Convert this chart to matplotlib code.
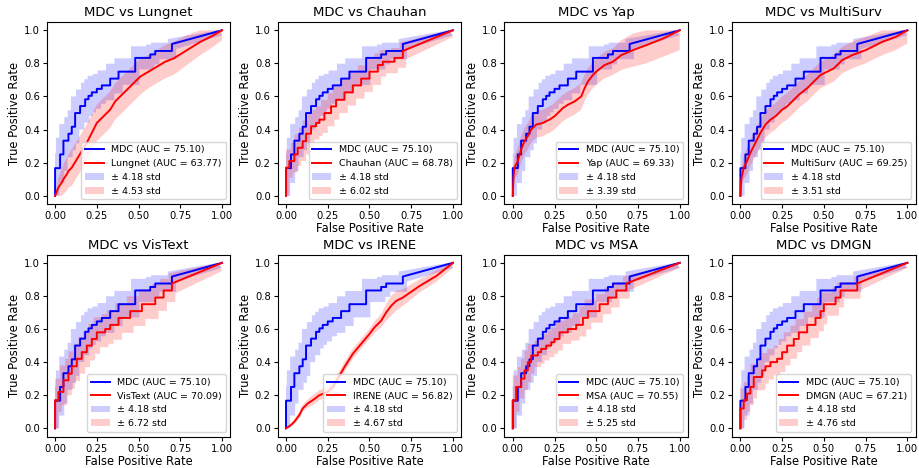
import matplotlib
matplotlib.use("Agg")
import matplotlib.pyplot as plt
import numpy as np

# MDC (shared by every panel): step points, curve ends on a straight line to (1, 1)
mdc_x = [0, 0, 0.03, 0.05, 0.08, 0.10, 0.12, 0.15, 0.18, 0.20, 0.22, 0.25, 0.28, 0.33, 0.38, 0.48, 0.57, 0.60, 0.70, 1.0]
mdc_y = [0, 0.167, 0.25, 0.333, 0.375, 0.417, 0.5, 0.542, 0.583, 0.604, 0.625, 0.646, 0.667, 0.708, 0.75, 0.833, 0.854, 0.875, 0.917, 1.0]
mdc_w = [0, 0.09, 0.10, 0.10, 0.10, 0.10, 0.10, 0.10, 0.10, 0.10, 0.10, 0.09, 0.09, 0.09, 0.08, 0.07, 0.06, 0.05, 0.03, 0.03]

lungnet_x = [0, 0.02, 0.04, 0.05, 0.07, 0.08, 0.10, 0.13, 0.16, 0.19, 0.22, 0.25, 0.29, 0.33, 0.36, 0.39, 0.43, 0.47, 0.51, 0.56, 0.61, 0.66, 0.71, 0.79, 0.87, 0.94, 1.0]
lungnet_y = [0, 0.05, 0.08, 0.10, 0.13, 0.15, 0.17, 0.22, 0.27, 0.32, 0.38, 0.44, 0.48, 0.52, 0.57, 0.60, 0.64, 0.68, 0.72, 0.75, 0.78, 0.81, 0.83, 0.88, 0.93, 0.965, 1.0]
lungnet_w = [0, 0.06, 0.08, 0.09, 0.10, 0.10, 0.11, 0.11, 0.11, 0.11, 0.11, 0.11, 0.11, 0.11, 0.11, 0.11, 0.11, 0.11, 0.11, 0.10, 0.10, 0.10, 0.10, 0.09, 0.08, 0.07, 0.06]

chauhan_x = [0, 0, 0.02, 0.05, 0.07, 0.10, 0.12, 0.15, 0.18, 0.20, 0.23, 0.27, 0.30, 0.35, 0.40, 0.45, 0.50, 0.55, 0.58, 0.65, 0.70, 1.0]
chauhan_y = [0, 0.17, 0.21, 0.25, 0.29, 0.33, 0.375, 0.42, 0.44, 0.46, 0.5, 0.54, 0.58, 0.625, 0.667, 0.708, 0.75, 0.79, 0.81, 0.833, 0.875, 1.0]
chauhan_w = [0, 0.06, 0.07, 0.07, 0.08, 0.08, 0.08, 0.08, 0.08, 0.08, 0.08, 0.08, 0.08, 0.08, 0.08, 0.08, 0.08, 0.07, 0.07, 0.06, 0.05, 0.04]

yap_x = [0, 0.005, 0.01, 0.03, 0.05, 0.07, 0.09, 0.11, 0.14, 0.18, 0.22, 0.25, 0.28, 0.30, 0.33, 0.37, 0.41, 0.43, 0.45, 0.48, 0.50, 0.55, 0.60, 0.65, 0.72, 0.80, 0.90, 1.0]
yap_y = [0, 0.12, 0.17, 0.21, 0.28, 0.33, 0.36, 0.40, 0.43, 0.44, 0.46, 0.48, 0.51, 0.53, 0.55, 0.57, 0.60, 0.65, 0.69, 0.73, 0.75, 0.79, 0.81, 0.85, 0.88, 0.91, 0.95, 1.0]
yap_w = [0, 0.06, 0.07, 0.08, 0.08, 0.08, 0.08, 0.08, 0.08, 0.08, 0.08, 0.08, 0.08, 0.08, 0.08, 0.08, 0.08, 0.08, 0.08, 0.08, 0.08, 0.08, 0.08, 0.09, 0.10, 0.11, 0.11, 0.12]

multisurv_x = [0, 0.005, 0.02, 0.04, 0.06, 0.08, 0.10, 0.12, 0.15, 0.18, 0.21, 0.25, 0.28, 0.31, 0.35, 0.40, 0.44, 0.48, 0.52, 0.56, 0.61, 0.67, 0.75, 0.85, 0.93, 1.0]
multisurv_y = [0, 0.10, 0.17, 0.21, 0.26, 0.30, 0.34, 0.38, 0.43, 0.46, 0.48, 0.52, 0.54, 0.57, 0.61, 0.65, 0.69, 0.73, 0.75, 0.77, 0.82, 0.85, 0.88, 0.93, 0.96, 1.0]
multisurv_w = [0, 0.06, 0.07, 0.08, 0.08, 0.08, 0.08, 0.08, 0.08, 0.08, 0.08, 0.08, 0.08, 0.08, 0.08, 0.08, 0.08, 0.08, 0.08, 0.08, 0.08, 0.08, 0.08, 0.08, 0.08, 0.08]

vistext_x = [0, 0, 0.02, 0.05, 0.08, 0.10, 0.13, 0.16, 0.19, 0.22, 0.25, 0.30, 0.33, 0.38, 0.45, 0.52, 0.60, 0.65, 0.70, 1.0]
vistext_y = [0, 0.17, 0.22, 0.29, 0.33, 0.375, 0.42, 0.46, 0.5, 0.54, 0.58, 0.60, 0.625, 0.667, 0.708, 0.75, 0.79, 0.833, 0.875, 1.0]
vistext_w = [0, 0.07, 0.08, 0.09, 0.09, 0.09, 0.09, 0.09, 0.09, 0.09, 0.09, 0.09, 0.09, 0.09, 0.09, 0.09, 0.08, 0.07, 0.06, 0.05]

irene_x = [0, 0.03, 0.05, 0.08, 0.10, 0.13, 0.16, 0.20, 0.25, 0.28, 0.31, 0.35, 0.40, 0.45, 0.50, 0.53, 0.57, 0.60, 0.63, 0.66, 0.70, 0.80, 0.90, 1.0]
irene_y = [0, 0.02, 0.04, 0.08, 0.12, 0.15, 0.17, 0.20, 0.22, 0.25, 0.30, 0.37, 0.45, 0.51, 0.57, 0.61, 0.65, 0.70, 0.74, 0.77, 0.79, 0.86, 0.92, 1.0]
irene_w = [0, 0.01, 0.015, 0.02, 0.02, 0.025, 0.03, 0.03, 0.03, 0.03, 0.03, 0.03, 0.03, 0.03, 0.03, 0.035, 0.04, 0.05, 0.06, 0.06, 0.05, 0.04, 0.035, 0.03]

msa_x = [0, 0, 0.02, 0.05, 0.07, 0.09, 0.11, 0.15, 0.17, 0.20, 0.23, 0.25, 0.28, 0.33, 0.38, 0.42, 0.45, 0.52, 0.57, 0.62, 0.68, 1.0]
msa_y = [0, 0.17, 0.25, 0.30, 0.35, 0.40, 0.44, 0.46, 0.48, 0.50, 0.52, 0.54, 0.58, 0.60, 0.625, 0.667, 0.708, 0.75, 0.79, 0.833, 0.875, 1.0]
msa_w = [0, 0.07, 0.07, 0.07, 0.07, 0.07, 0.07, 0.07, 0.07, 0.07, 0.07, 0.07, 0.07, 0.07, 0.07, 0.07, 0.07, 0.06, 0.06, 0.05, 0.04, 0.03]

dmgn_x = [0, 0, 0.02, 0.04, 0.06, 0.08, 0.13, 0.15, 0.18, 0.22, 0.25, 0.28, 0.32, 0.35, 0.40, 0.45, 0.48, 0.50, 0.57, 0.60, 0.70, 1.0]
dmgn_y = [0, 0.12, 0.17, 0.21, 0.25, 0.31, 0.35, 0.375, 0.40, 0.42, 0.46, 0.50, 0.54, 0.58, 0.625, 0.667, 0.708, 0.75, 0.79, 0.833, 0.875, 1.0]
dmgn_w = [0, 0.07, 0.07, 0.07, 0.07, 0.08, 0.08, 0.08, 0.08, 0.08, 0.08, 0.08, 0.08, 0.08, 0.08, 0.08, 0.08, 0.07, 0.06, 0.05, 0.04, 0.03]

names = ["Lungnet", "Chauhan", "Yap", "MultiSurv", "VisText", "IRENE", "MSA", "DMGN"]
aucs = ["63.77", "68.78", "69.33", "69.25", "70.09", "56.82", "70.55", "67.21"]
stds = ["4.53", "6.02", "3.39", "3.51", "6.72", "4.67", "5.25", "4.76"]
curves = [
    (lungnet_x, lungnet_y, lungnet_w, False),
    (chauhan_x, chauhan_y, chauhan_w, True),
    (yap_x, yap_y, yap_w, False),
    (multisurv_x, multisurv_y, multisurv_w, False),
    (vistext_x, vistext_y, vistext_w, True),
    (irene_x, irene_y, irene_w, False),
    (msa_x, msa_y, msa_w, True),
    (dmgn_x, dmgn_y, dmgn_w, True),
]
mdc_auc = "75.10"
mdc_std = "4.18"


def expand(xs, ys, ws, step):
    # turn step points into a staircase; last point joins straight to (1, 1)
    if not step:
        return np.array(xs), np.array(ys), np.array(ws)
    fx, fy, fw = [xs[0]], [ys[0]], [ws[0]]
    for k in range(1, len(xs) - 1):
        fx += [xs[k], xs[k]]
        fy += [ys[k - 1], ys[k]]
        fw += [ws[k - 1], ws[k]]
    fx.append(xs[-1]); fy.append(ys[-1]); fw.append(ws[-1])
    return np.array(fx), np.array(fy), np.array(fw)


def band(ax, x, y, w, shift, color):
    # upper edge steps a bit earlier, lower edge a bit later
    ux = np.clip(x - shift, 0, 1)
    uy = np.clip(y + w, 0, 1)
    lx = np.clip(x + shift, 0, 1)
    ly = np.clip(y - w, 0, 1)
    px = np.concatenate([ux, lx[::-1]])
    py = np.concatenate([uy, ly[::-1]])
    return ax.fill(px, py, color=color, alpha=0.2, lw=0)[0]


fig = plt.figure(figsize=(9.2, 4.68), dpi=100)
lefts = [0.0508, 0.3018, 0.5483, 0.7957]
bottoms = [0.564, 0.0671]
w_ax, h_ax = 0.1996, 0.389

mx, my, mw = expand(mdc_x, mdc_y, mdc_w, True)

for i, name in enumerate(names):
    ax = fig.add_axes([lefts[i % 4], bottoms[i // 4], w_ax, h_ax])
    cx, cy, cw, step = curves[i]
    rx, ry, rw = expand(cx, cy, cw, step)

    l1, = ax.plot(mx, my, color="blue", lw=1.4)
    l2, = ax.plot(rx, ry, color="red", lw=1.4)
    f1 = band(ax, mx, my, mw, 0.025, "blue")
    f2 = band(ax, rx, ry, rw, 0.02 if step else 0.0, "red")

    ax.set_xlim(-0.05, 1.05)
    ax.set_ylim(-0.05, 1.05)
    ax.set_xticks([0, 0.25, 0.5, 0.75, 1.0])
    ax.set_xticklabels(["0.00", "0.25", "0.50", "0.75", "1.00"])
    ax.set_yticks([0, 0.2, 0.4, 0.6, 0.8, 1.0])
    ax.set_yticklabels(["0.0", "0.2", "0.4", "0.6", "0.8", "1.0"])
    ax.tick_params(labelsize=7.2, length=3, pad=2)
    ax.set_title("MDC vs " + name, fontsize=9.5, pad=4)
    ax.set_ylabel("True Positive Rate", fontsize=8.3, labelpad=2)
    if i != 0:
        ax.set_xlabel("False Positive Rate", fontsize=8.3, labelpad=1)
    ax.legend([l1, l2, f1, f2],
              ["MDC (AUC = %s)" % mdc_auc, "%s (AUC = %s)" % (name, aucs[i]),
               "\u00b1 %s std" % mdc_std, "\u00b1 %s std" % stds[i]],
              loc="lower right", fontsize=6.8)

plt.savefig("out.png", dpi=100)
